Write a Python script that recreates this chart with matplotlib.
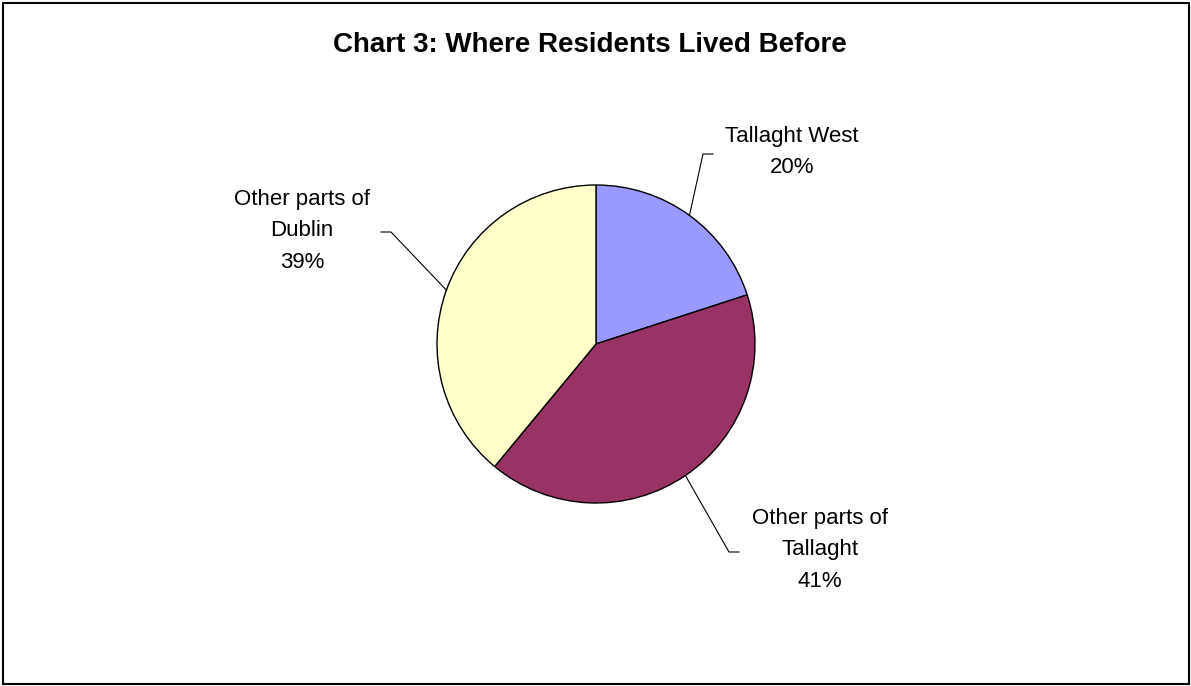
import matplotlib
matplotlib.use("Agg")
import matplotlib.pyplot as plt
import numpy as np

plt.rcParams['font.family'] = ['Liberation Sans', 'DejaVu Sans']

labels = ['Tallaght West', 'Other parts of\nTallaght', 'Other parts of\nDublin']
shares = [20, 41, 39]
colors = ['#9999FF', '#993366', '#FFFFCC']

W, H = 1191, 686
fig = plt.figure(figsize=(W / 100, H / 100), dpi=100)
ax = fig.add_axes([0, 0, 1, 1])

cx, cy, r = 596, H - 344, 159
wedges, _ = ax.pie(shares, colors=colors, startangle=90, counterclock=False,
                   center=(cx, cy), radius=r,
                   wedgeprops=dict(edgecolor='black', linewidth=1.0))

ax.set_xlim(0, W)
ax.set_ylim(0, H)
ax.axis('off')

# label layout: text centre, elbow point, end of horizontal stub (pixel coords from top)
layout = [
    ((792, 152), (703, 154), (713, 154)),
    ((820, 550), (729, 552), (739, 552)),
    ((302, 231), (391, 232), (381, 232)),
]

for w, lab, pct, (tpos, elbow, stub) in zip(wedges, labels, shares, layout):
    mid = np.deg2rad((w.theta1 + w.theta2) / 2)
    ex, ey = cx + r * np.cos(mid), cy + r * np.sin(mid)
    ax.plot([ex, elbow[0], stub[0]], [ey, H - elbow[1], H - stub[1]],
            color='black', lw=0.8)
    ax.text(tpos[0], H - tpos[1], f"{lab}\n{pct}%", ha='center', va='center',
            fontsize=16, linespacing=1.68, color='black')

ax.text(590, H - 45, 'Chart 3: Where Residents Lived Before', ha='center',
        va='center', fontsize=20, fontweight='bold')

ax.add_patch(plt.Rectangle((3, 2), W - 5, H - 5, fill=False, edgecolor='black',
                           lw=1.5))

fig.savefig('out.png', dpi=100)
